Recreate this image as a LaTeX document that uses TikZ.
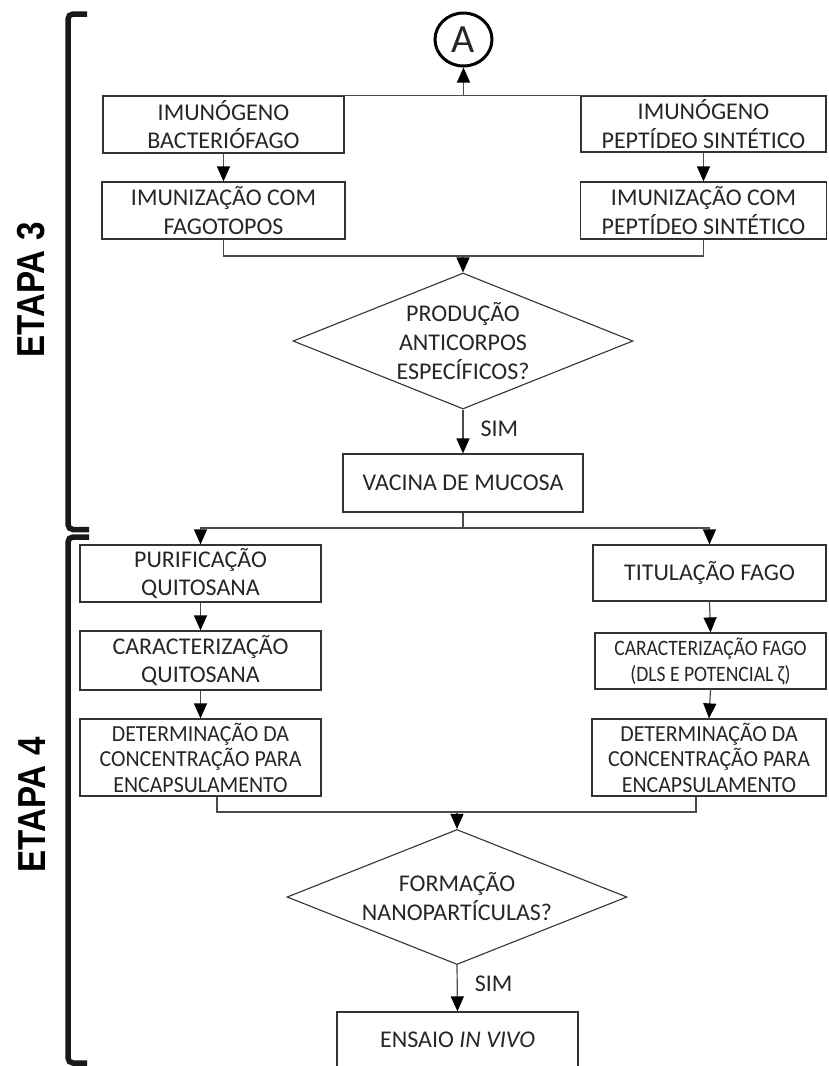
\documentclass[tikz,border=0pt]{standalone}
\usepackage{fontspec}
\setmainfont{Carlito}
\newfontfamily\condA[FakeStretch=0.95]{Carlito}
\newfontfamily\condB[FakeStretch=0.89]{Carlito}
\newfontfamily\etapaf[FakeStretch=0.85]{Liberation Sans}
\usetikzlibrary{arrows.meta,shapes.geometric}
\tikzset{
  box/.style={draw=black!80, line width=1.2pt, inner sep=0pt, align=center, text=black!85,
    font=\fontsize{24}{28.5}\selectfont},
  dia/.style={draw=black!80, line width=1.1pt, shape=diamond, inner sep=0pt},
  lbl/.style={align=center, text=black!85, font=\fontsize{24}{29}\selectfont, inner sep=0pt},
  conn/.style={draw=black!70, line width=1.2pt},
  arr/.style={conn, -{Triangle[width=13pt,length=15pt,color=black]}},
  sim/.style={anchor=west, inner sep=0pt, xshift=17pt, text=black!85, font=\fontsize{24}{28}\selectfont},
  brk/.style={line width=5.5pt, rounded corners=5pt, draw=black!90},
  etapa/.style={rotate=90, inner sep=0pt, font=\etapaf\bfseries\fontsize{39}{39}\selectfont},
  smallA/.style={font=\condA\fontsize{23}{25.5}\selectfont},
  smallB/.style={font=\condB\fontsize{22}{26}\selectfont}
}
\begin{document}
\begin{tikzpicture}[x=1pt,y=-1pt]
\useasboundingbox (0,0) rectangle (828,1066);

% stage brackets and labels
\draw[brk] (87,14) -- (68,14) -- (68,529.5) -- (89,529.5);
\draw[brk] (89,537) -- (68,537) -- (68,1063) -- (87,1063);
\node[etapa] (e3) at (31,290) {ETAPA 3};
\node[etapa] (e4) at (32,805) {ETAPA 4};

% connector A
\node[ellipse, draw=black, line width=3pt, minimum width=57pt, minimum height=53pt, inner sep=0pt,
  text=black!85, font=\fontsize{40}{40}\selectfont] (A) at (463.5,39.5) {A};

% stage 3
\node[box, minimum width=241pt, minimum height=57pt] (L1) at (223.5,124.5) {IMUNÓGENO\\BACTERIÓFAGO};
\node[box, minimum width=243pt, minimum height=57pt] (L2) at (223.5,210.5) {IMUNIZAÇÃO COM\\FAGOTOPOS};
\node[box, minimum width=245pt, minimum height=56pt] (R1) at (703.5,124) {IMUNÓGENO\\PEPTÍDEO SINTÉTICO};
\node[box, minimum width=246pt, minimum height=57pt] (R2) at (703.5,210.5) {IMUNIZAÇÃO COM\\PEPTÍDEO SINTÉTICO};
\node[dia, minimum width=340pt, minimum height=136pt] (D1) at (463,341) {};
\node[lbl] (D1t) at (D1.center) {PRODUÇÃO\\ANTICORPOS\\ESPECÍFICOS?};
\node[box, minimum width=240pt, minimum height=58pt] (V) at (463,483) {VACINA DE MUCOSA};

% stage 4
\node[box, minimum width=241pt, minimum height=57pt] (P) at (200.5,573.5) {PURIFICAÇÃO\\QUITOSANA};
\node[box, minimum width=241pt, minimum height=59pt] (CQ) at (200.5,660.5) {CARACTERIZAÇÃO\\QUITOSANA};
\node[box, smallA, minimum width=241pt, minimum height=77pt] (DL) at (200.5,757.5) {DETERMINAÇÃO DA\\CONCENTRAÇÃO PARA\\ENCAPSULAMENTO};
\node[box, minimum width=233pt, minimum height=56pt] (T) at (709.5,573) {TITULAÇÃO FAGO};
\node[box, smallB, minimum width=231pt, minimum height=56pt] (CF) at (710.5,661) {CARACTERIZAÇÃO FAGO\\(DLS E POTENCIAL ζ)};
\node[box, smallA, minimum width=234pt, minimum height=77pt] (DR) at (709,757.5) {DETERMINAÇÃO DA\\CONCENTRAÇÃO PARA\\ENCAPSULAMENTO};
\node[dia, minimum width=340pt, minimum height=135pt] (D2) at (457,897) {};
\node[lbl] (D2t) at (D2.center) {FORMAÇÃO\\NANOPARTÍCULAS?};
\node[box, minimum width=241pt, minimum height=56pt] (E) at (457.5,1040) {ENSAIO \textit{IN VIVO}};

% junction points
\coordinate (m1) at (463,256);
\coordinate (s1) at (463,528);
\coordinate (m2) at (457,812);

% connectors
\draw[conn] (L1.north) -- (R1.north);
\draw[arr] (L1.north -| A.south) -- (A.south);
\draw[arr] (L1.south) -- (L2.north);
\draw[arr] (R1.south) -- (R2.north);
\draw[conn] (L2.south) |- (m1) -| (R2.south);
\draw[arr] (m1) -- (D1.north);
\draw[arr] (D1.south) -- node[sim, pos=0.45] (sim1) {SIM} (V.north);
\draw[conn] (V.south) -- (s1);
\draw[arr] (s1) -| (P.north);
\draw[arr] (s1) -| (T.north);
\draw[arr] (P.south) -- (CQ.north);
\draw[arr] (CQ.south) -- (DL.north);
\draw[arr] (T.south) -- (CF.north);
\draw[arr] (CF.south) -- (DR.north);
\draw[conn] ([xshift=16.5pt]DL.south) |- (m2) -| ([xshift=-13pt]DR.south);
\draw[arr] (m2) -- (D2.north);
\draw[arr] (D2.south) -- node[sim, pos=0.4] (sim2) {SIM} (E.north);
\end{tikzpicture}
\end{document}
